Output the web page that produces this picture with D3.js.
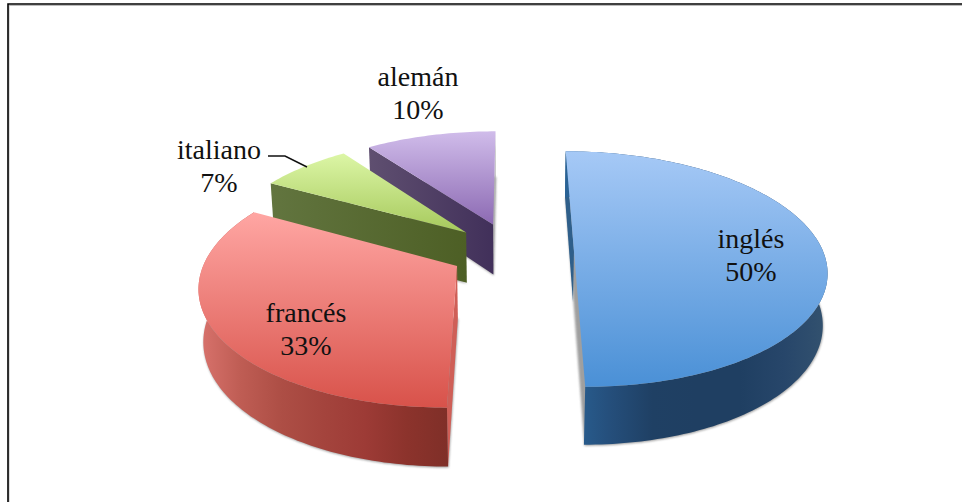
<!DOCTYPE html>
<html lang="es">
<head>
<meta charset="utf-8">
<script src="https://cdn.jsdelivr.net/npm/d3@7/dist/d3.min.js"></script>
<style>
html,body{margin:0;padding:0;background:#fff;overflow:hidden}
svg{display:block}
text{font-family:"Liberation Serif",serif;font-size:28px;fill:#111;text-anchor:middle}
</style>
</head>
<body>
<script>
// ---- data ----
const categories = ["inglés", "francés", "italiano", "alemán"];
const shares = [50, 33, 7, 10];

// ---- styles ----
const topColors = [["#a6c9f6", "#4a90d6"], ["#ffa6a3", "#d8524a"], ["#dcf6a6", "#a6c95c"], ["#d0bcea", "#8c6ab3"]];
const arcWallStops = [
  ["#2a6396", "#254f7c", "#1f4064", "#1f3f62", "#1f3f62", "#27466a", "#33526f"],
  ["#d9736d", "#bf5d54", "#ad4e45", "#a4443d", "#9d3b36", "#8c332c", "#7f2f28"]
];
const radialWallColors = [null, null, ["#62753f", "#4d5f25"], ["#5f4f70", "#41305a"]];
const slitWallColors = ["#2f5f8a", "#cf5f57", null, "#b4b4b4"];

// ---- layout ----
const W = 962, H = 502;
const explode = 0.25, persp = 0.153, depthDrop = 52, depthPersp = 0.015;
const sx = d3.scaleLinear().domain([0, 1]).range([511.7, 760.7]);
const sy = d3.scaleLinear().domain([0, 1]).range([251, 366]);
const labelPos = [[751, 248], [306, 322], [219, 159], [418, 86]];
const lineGap = 33;

function project(u, v, lower) {
  const w = 1 - persp * v + (lower ? depthPersp : 0);
  const y0 = sy(0), dy = sy(v) - y0 + (lower ? depthDrop : 0);
  return [sx(0) + (sx(u) - sx(0)) / w, y0 + dy / w];
}

const pie = d3.pie().sort(null).value(d => d).startAngle(0).endAngle(2 * Math.PI);
const slices = pie(shares).map((p, i) => {
  const mid = (p.startAngle + p.endAngle) / 2;
  return {i, a0: p.startAngle, a1: p.endAngle, ax: explode * Math.sin(mid), ay: -explode * Math.cos(mid)};
});
const rim = (s, lower) => {
  const n = Math.max(8, Math.round((s.a1 - s.a0) / 0.02));
  return d3.range(n + 1).map(k => {
    const a = s.a0 + (s.a1 - s.a0) * k / n;
    return project(s.ax + Math.sin(a), s.ay - Math.cos(a), lower);
  });
};
const apex = (s, lower) => project(s.ax, s.ay, lower);
const line = d3.line();
const closed = pts => line(pts) + "Z";

const svg = d3.select("body").append("svg").attr("width", W).attr("height", H);
const defs = svg.append("defs");
defs.append("filter").attr("id", "soft").attr("x", "-10%").attr("y", "-10%").attr("width", "120%").attr("height", "120%")
  .append("feGaussianBlur").attr("stdDeviation", 1.3);

svg.append("rect").attr("width", W).attr("height", H).attr("fill", "#fff");

function gradient(id, x1, y1, x2, y2, colors) {
  const g = defs.append("linearGradient").attr("id", id).attr("gradientUnits", "userSpaceOnUse")
    .attr("x1", x1).attr("y1", y1).attr("x2", x2).attr("y2", y2);
  colors.forEach((c, k) => g.append("stop").attr("offset", k / (colors.length - 1)).attr("stop-color", c));
  return `url(#${id})`;
}

// back to front
[3, 2, 1, 0].forEach(idx => {
  const s = slices[idx];
  const g = svg.append("g");
  const top = rim(s, false), low = rim(s, true);
  const topPoly = [apex(s, false), ...top], lowPoly = [apex(s, true), ...low];

  // soft shadow from the lower face
  g.append("path").attr("d", closed(lowPoly.map(p => [p[0] + 0.5, p[1] + 1])))
    .attr("fill", "#777").attr("opacity", 0.7).attr("filter", "url(#soft)");

  // narrow straight wall seen edge-on
  const edgeStart = idx === 3 ? top.length - 1 : 0;
  const slit = slitWallColors[idx];
  if (slit) {
    g.append("path").attr("d", closed([apex(s, false), top[edgeStart], low[edgeStart], apex(s, true)])).attr("fill", slit);
  }
  // broad straight wall facing the viewer
  if (radialWallColors[idx]) {
    const A = apex(s, false), B = top[0], C = low[0], D = apex(s, true);
    const xs = [A[0], B[0]];
    g.append("path").attr("d", closed([A, B, C, D]))
      .attr("fill", gradient("rad" + idx, d3.min(xs), 0, d3.max(xs), 0, radialWallColors[idx]));
  }
  // outer curved wall
  const band = [...top, ...low.slice().reverse()];
  const xe = d3.extent(band, p => p[0]);
  if (arcWallStops[idx]) {
    g.append("path").attr("d", closed(band))
      .attr("fill", gradient("arc" + idx, xe[0], 0, xe[1], 0, arcWallStops[idx]));
  }
  // top face
  const ye = d3.extent(topPoly, p => p[1]);
  g.append("path").attr("d", closed(topPoly))
    .attr("fill", gradient("top" + idx, 0, ye[0], 0, ye[1], topColors[idx]));
});

// leader line
svg.append("path").attr("d", line([[268, 156], [285, 156], [307, 167]]))
  .attr("fill", "none").attr("stroke", "#111").attr("stroke-width", 1.5);

// labels
categories.forEach((c, i) => {
  const [x, y] = labelPos[i];
  svg.append("text").attr("x", x).attr("y", y).text(c);
  svg.append("text").attr("x", x).attr("y", y + lineGap).text(d3.format("d")(shares[i]) + "%");
});

// frame
svg.append("path").attr("d", line([[9, H], [9, 5.5], [W, 5.5]])).attr("fill", "none").attr("stroke", "#bbb").attr("stroke-width", 1);
svg.append("path").attr("d", line([[8, H], [8, 4], [W, 4]])).attr("fill", "none").attr("stroke", "#000").attr("stroke-width", 1.6);
</script>
</body>
</html>
